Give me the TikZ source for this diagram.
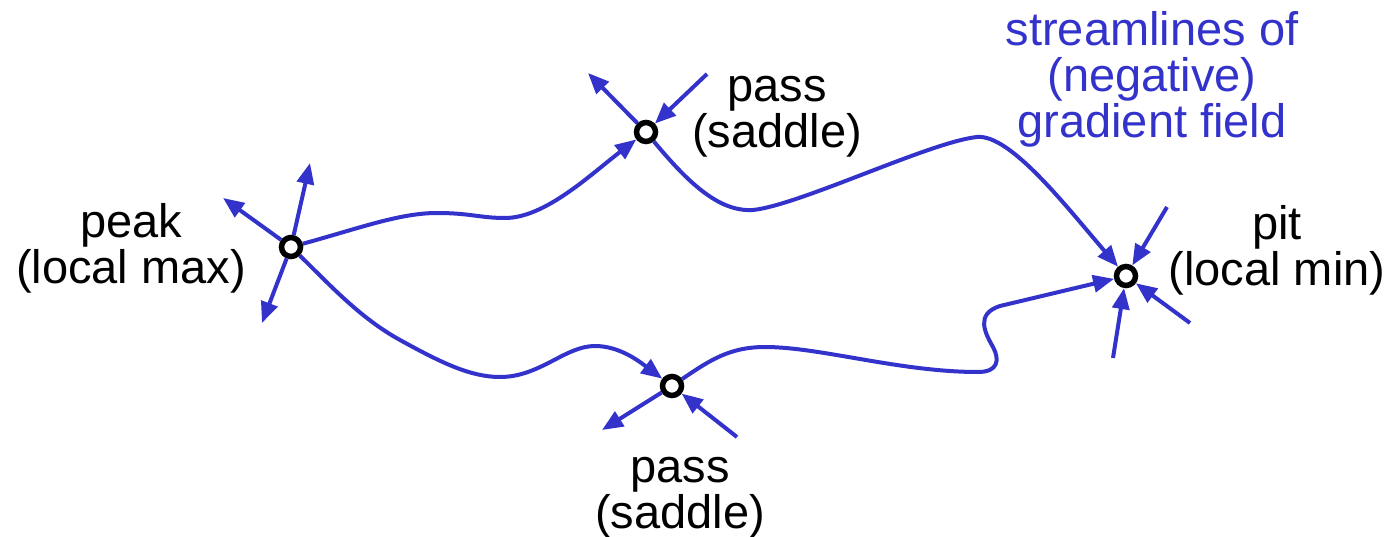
\documentclass[tikz,border=0pt]{standalone}
\usepackage{fontspec}
\setmainfont{Liberation Sans}
\usetikzlibrary{arrows.meta}
\definecolor{fieldblue}{RGB}{51,51,204}
\begin{document}
\begin{tikzpicture}[x=1pt,y=-1pt,
  crit/.style={circle,draw=black,line width=5.5pt,fill=white,minimum size=19pt,inner sep=0pt},
  flow/.style={draw=fieldblue,line width=4pt,-{Triangle[length=21pt,width=17pt]}},
  lbl/.style={align=center,inner sep=0pt,font=\fontsize{47}{46}\selectfont},
]
\useasboundingbox (0,0) rectangle (1392,537);

% critical points
\node[crit] (peak) at (291,247) {};
\node[crit] (top)  at (646,132) {};
\node[crit] (bot)  at (672,386) {};
\node[crit] (pit)  at (1126,276) {};

% free ends
\coordinate (pk1) at (310,163);
\coordinate (pk2) at (223,198);
\coordinate (pk3) at (262,323);
\coordinate (tout) at (588,73);
\coordinate (tin)  at (707,74);
\coordinate (bout) at (602,430);
\coordinate (bin)  at (737,437);
\coordinate (pi1) at (1167,207);
\coordinate (pi2) at (1190,323);
\coordinate (pi3) at (1113,358);

% straight arrows
\draw[flow] (peak) -- (pk1);
\draw[flow] (peak) -- (pk2);
\draw[flow] (peak) -- (pk3);
\draw[flow] (top) -- (tout);
\draw[flow] (tin) -- (top);
\draw[flow] (bot) -- (bout);
\draw[flow] (bin) -- (bot);
\draw[flow] (pi1) -- (pit);
\draw[flow] (pi2) -- (pit);
\draw[flow] (pi3) -- (pit);

% streamlines
\draw[flow] (peak) .. controls (360,228) and (400,213) .. (437,213)
  .. controls (470,213) and (480,218) .. (505,218)
  .. controls (545,218) and (590,175) .. (top);
\draw[flow] (top) .. controls (690,185) and (720,212) .. (753,210)
  .. controls (800,205) and (930,142) .. (977,137)
  .. controls (1010,134) and (1065,205) .. (pit);
\draw[flow] (peak) .. controls (330,285) and (360,318) .. (400,340)
  .. controls (440,362) and (470,377) .. (500,377)
  .. controls (540,377) and (565,346) .. (595,346)
  .. controls (620,346) and (640,362) .. (bot);
\draw[flow] (bot) .. controls (710,360) and (730,347) .. (765,347)
  .. controls (820,347) and (900,372) .. (978,372)
  .. controls (998,372) and (1000,360) .. (993,347)
  .. controls (985,333) and (975,314) .. (1000,306) -- (pit);

% labels
\node[lbl] (peaklbl) at (131,248) {peak\\(local max)};
\node[lbl] (toplbl) at (777,117) {pass\\(saddle)};
\node[lbl] (pitlbl) at (1277,250) {pit\\(local min)};
\node[lbl] (botlbl) at (680,498) {pass\\(saddle)};
\node[lbl,text=fieldblue] (note) at (1152,79) {streamlines of\\(negative)\\gradient field};
\end{tikzpicture}
\end{document}
